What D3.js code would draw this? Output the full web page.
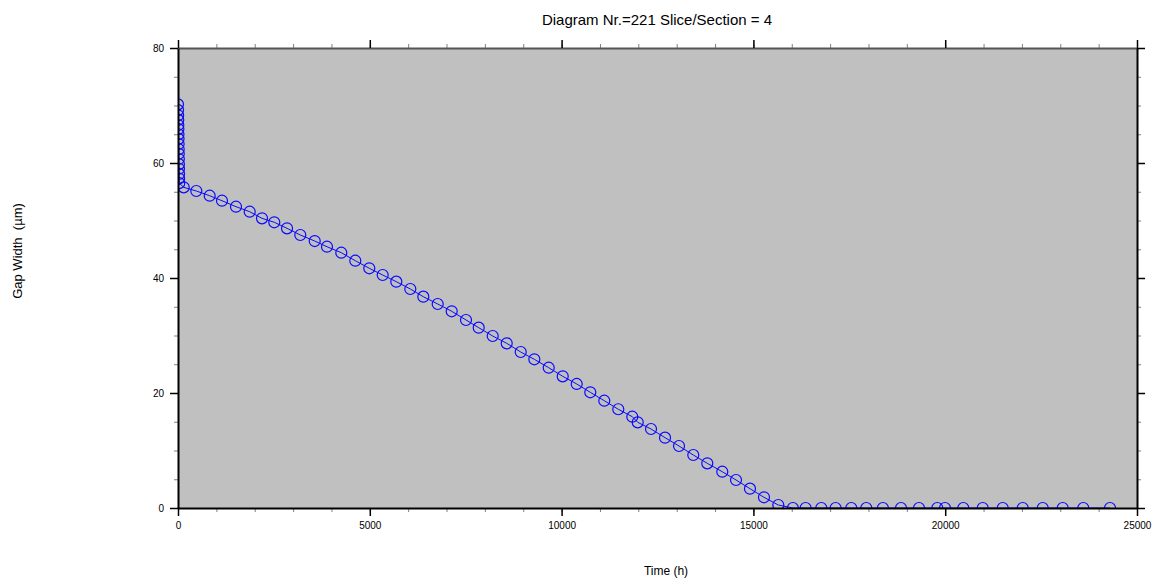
<!DOCTYPE html>
<html lang="en">
	<head>
		<meta charset="utf-8">
		<title>Gap Width</title>
		<script type="text/javascript" src="https://cdnjs.cloudflare.com/ajax/libs/d3/7.8.5/d3.min.js"></script>
		<style type="text/css">
			body { margin: 0; background: #fff; }
			text { font-family: "Liberation Sans", Arial, sans-serif; fill: #000; }
		</style>
	</head>
	<body>
		<script type="text/javascript">

			//Width and height
			var w = 1159;
			var h = 579;
			var margin = {top: 48, right: 22, bottom: 71, left: 178};

			//Time (h) and gap width (um)
			var timeValues = [
				0, 2, 4, 6, 8, 10, 12, 14, 16, 18, 20, 22, 24, 26, 28, 30, 32,
				149, 477, 826, 1147, 1512, 1869, 2190, 2510, 2842, 3188, 3564, 3884, 4257, 4622,
				4987, 5336, 5691, 6056, 6395, 6770, 7135, 7508, 7839, 8204, 8569, 8934, 9289,
				9664, 10029, 10394, 10748, 11113, 11478, 11843, 11984, 12331, 12696, 13061, 13433,
				13798, 14189, 14547, 14911, 15276, 15649,
				16029, 16361, 16770, 17143, 17552, 17943, 18376, 18848, 19317, 19794, 19995,
				20472, 20978, 21499, 22021, 22542, 23063, 23600, 24296
			];
			var gapValues = [
				70.2, 69.2, 68.3, 67.5, 66.6, 65.9, 65.0, 64.2, 63.3, 62.4, 61.6, 60.7, 59.8, 59.0, 58.1, 57.3, 56.5,
				55.77, 55.13, 54.31, 53.44, 52.40, 51.53, 50.38, 49.69, 48.64, 47.48, 46.43, 45.44, 44.40, 43.01,
				41.69, 40.52, 39.36, 38.09, 36.75, 35.48, 34.21, 32.70, 31.36, 29.91, 28.64, 27.13, 25.86,
				24.40, 22.90, 21.57, 20.12, 18.66, 17.17, 15.88, 14.90, 13.74, 12.23, 10.78, 9.22,
				7.77, 6.31, 4.87, 3.36, 1.86, 0.52,
				0, 0, 0, 0, 0, 0, 0, 0, 0, 0, 0,
				0, 0, 0, 0, 0, 0, 0, 0
			];

			//Tick values
			var xMajor = [0, 5000, 10000, 15000, 20000, 25000];
			var xMinor = d3.range(0, 25001, 1000);
			var yMajor = [0, 20, 40, 60, 80];
			var yMinor = d3.range(0, 81, 5);

			var dataset = timeValues.map((t, i) => ({t: t, v: gapValues[i]}));

			var iw = w - margin.left - margin.right;
			var ih = h - margin.top - margin.bottom;

			//Scales
			var xScale = d3.scaleLinear().domain([0, 25000]).range([0, iw]);
			var yScale = d3.scaleLinear().domain([0, 80]).range([ih, 0]);

			var svg = d3.select("body")
						.append("svg")
						.attr("width", w)
						.attr("height", h);

			var g = svg.append("g")
						.attr("transform", `translate(${margin.left},${margin.top})`);

			//Plot background
			g.append("rect")
				.attr("width", iw)
				.attr("height", ih)
				.attr("fill", "#c0c0c0");

			g.append("clipPath")
				.attr("id", "clip")
				.append("rect")
				.attr("width", iw)
				.attr("height", ih);

			var plot = g.append("g").attr("clip-path", "url(#clip)");

			//Line through the points
			var line = d3.line()
						.x(d => xScale(d.t))
						.y(d => yScale(d.v));

			plot.append("path")
				.datum(dataset)
				.attr("d", line)
				.attr("fill", "none")
				.attr("stroke", "#0a0aff")
				.attr("stroke-width", 1);

			//Open circle markers
			plot.selectAll("circle")
				.data(dataset)
				.enter()
				.append("circle")
				.attr("cx", d => xScale(d.t))
				.attr("cy", d => yScale(d.v))
				.attr("r", 5.5)
				.attr("fill", "none")
				.attr("stroke", "#0a0aff")
				.attr("stroke-width", 1.2);

			//Helper for one axis: minor ticks grey, major ticks black
			function drawAxis(axisFn, scale, pos, major, minor, labels, lineColor) {
				var minorAxis = axisFn(scale).tickValues(minor).tickSize(4).tickSizeOuter(0).tickFormat("");
				var majorAxis = axisFn(scale).tickValues(major).tickSize(8).tickSizeOuter(0)
									.tickPadding(6)
									.tickFormat(labels ? d3.format("d") : "");

				var gMinor = g.append("g").attr("transform", pos).call(minorAxis);
				gMinor.select(".domain").remove();
				gMinor.selectAll("line").attr("stroke", "#808080");

				var gMajor = g.append("g").attr("transform", pos).call(majorAxis);
				gMajor.select(".domain").attr("stroke", lineColor).attr("stroke-width", 2);
				gMajor.selectAll("line").attr("stroke", "#000").attr("stroke-width", 1.5);
				gMajor.selectAll("text").attr("font-size", "10px");
			}

			drawAxis(d3.axisTop, xScale, "translate(0,0)", xMajor, xMinor, false, "#555");
			drawAxis(d3.axisRight, yScale, `translate(${iw},0)`, yMajor, yMinor, false, "#000");
			drawAxis(d3.axisBottom, xScale, `translate(0,${ih})`, xMajor, xMinor, true, "#000");
			drawAxis(d3.axisLeft, yScale, "translate(0,0)", yMajor, yMinor, true, "#000");

			//Title
			svg.append("text")
				.attr("x", 657)
				.attr("y", 25)
				.attr("text-anchor", "middle")
				.attr("font-size", "15px")
				.text("Diagram Nr.=221 Slice/Section = 4");

			//Axis titles
			svg.append("text")
				.attr("x", 666)
				.attr("y", 575)
				.attr("text-anchor", "middle")
				.attr("font-size", "12px")
				.text("Time (h)");

			svg.append("text")
				.attr("transform", "translate(22,251) rotate(-90)")
				.attr("text-anchor", "middle")
				.attr("font-size", "13px")
				.style("white-space", "pre")
				.text("Gap Width  (\u00b5m)");

		</script>
	</body>
</html>
